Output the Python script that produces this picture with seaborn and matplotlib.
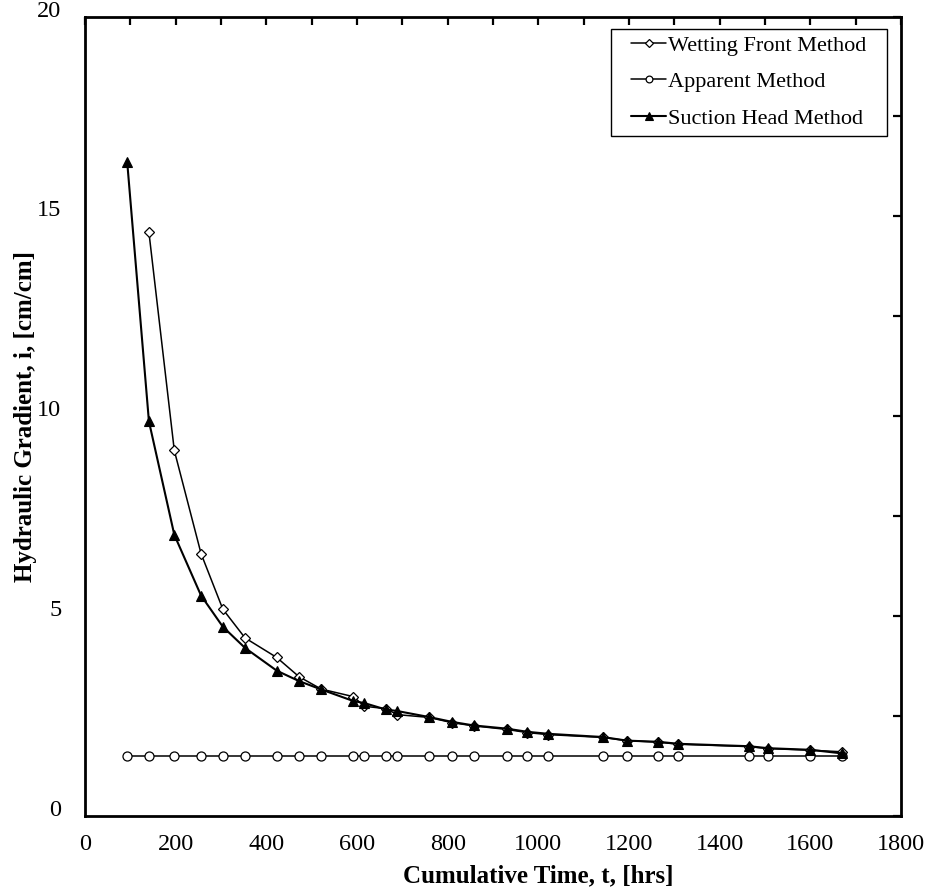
import numpy as np
import pandas as pd
import matplotlib
matplotlib.use('Agg')
import matplotlib.pyplot as plt
import seaborn as sns
from matplotlib.ticker import MultipleLocator
from matplotlib.transforms import ScaledTranslation
from matplotlib.patches import Rectangle

sns.set_theme(style='white')
plt.rcParams['font.family'] = ['Liberation Serif', 'DejaVu Serif']

# Cumulative time [hrs]
time_all = [93, 141, 197, 256, 304, 353, 423, 472, 521, 592, 616, 663, 689, 759,
            809, 857, 930, 976, 1022, 1142, 1195, 1265, 1309, 1464, 1507, 1600, 1670]

# Wetting front method starts at the second reading
wetting_front = [14.6, 9.14, 6.56, 5.17, 4.45, 3.96, 3.48, 3.17, 2.98, 2.74, 2.68,
                 2.53, 2.46, 2.33, 2.25, 2.16, 2.08, 2.03, 1.96, 1.88, 1.84, 1.79,
                 1.73, 1.68, 1.64, 1.60]
apparent = [1.5] * len(time_all)
suction_head = [16.37, 9.87, 7.03, 5.51, 4.73, 4.20, 3.63, 3.37, 3.16, 2.87, 2.82,
                2.66, 2.62, 2.47, 2.35, 2.26, 2.18, 2.10, 2.05, 1.97, 1.88, 1.85,
                1.80, 1.74, 1.69, 1.65, 1.56]

series_names = ['Wetting Front Method', 'Apparent Method', 'Suction Head Method']

fig = plt.figure(figsize=(9.30, 8.92), dpi=100)
ax = fig.add_axes([0.0914, 0.0855, 0.8774, 0.896])

sns.lineplot(x=time_all[1:], y=wetting_front, ax=ax, color='black', lw=1.1,
             marker='D', markersize=5, markerfacecolor='white',
             markeredgecolor='black', markeredgewidth=0.9,
             label=series_names[0], sort=False)
sns.lineplot(x=time_all, y=apparent, ax=ax, color='black', lw=1.1,
             marker='o', markersize=6.5, markerfacecolor='white',
             markeredgecolor='black', markeredgewidth=0.9,
             label=series_names[1], sort=False)
sns.lineplot(x=time_all, y=suction_head, ax=ax, color='black', lw=1.5,
             marker='^', markersize=7, markerfacecolor='black',
             markeredgecolor='black', markeredgewidth=0.8,
             label=series_names[2], sort=False)

ax.set_xlim(0, 1800)
ax.set_ylim(0, 20)
ax.xaxis.set_major_locator(MultipleLocator(200))
ax.xaxis.set_minor_locator(MultipleLocator(100))
ax.yaxis.set_major_locator(MultipleLocator(5))
ax.yaxis.set_minor_locator(MultipleLocator(2.5))
ax.tick_params(which='both', direction='in', top=True, right=True,
               length=6, width=1.6, color='black', labelsize=17.5,
               labelcolor='black')
ax.tick_params(axis='x', pad=13)
ax.tick_params(axis='y', pad=17)

for s in ax.spines.values():
    s.set_color('black')
    s.set_linewidth(2)

ax.set_xlabel('Cumulative Time, t, [hrs]', fontsize=18, fontweight='bold', color='black')
ax.set_ylabel('Hydraulic Gradient, i, [cm/cm]', fontsize=18, fontweight='bold', color='black')
ax.xaxis.set_label_coords(0.555, -0.061)
ax.yaxis.set_label_coords(-0.059, 0.5)

# y tick labels sit a little above their ticks in the original
shift = ScaledTranslation(0, 8 / 100, fig.dpi_scale_trans)
for t in ax.yaxis.get_major_ticks():
    t.label1.set_transform(t.label1.get_transform() + shift)

leg = ax.legend(loc='upper right', fontsize=16, frameon=False,
                handlelength=1.55, handletextpad=0.1, markerscale=0.75,
                borderpad=0.3, labelspacing=0.72, borderaxespad=0,
                bbox_to_anchor=(873 / 930, 1 - 28.5 / 892),
                bbox_transform=fig.transFigure)
for txt in leg.get_texts():
    txt.set_color('black')

fig.canvas.draw()
bb = leg.get_window_extent()
extra = 14
frame = Rectangle((bb.x0 - extra, bb.y0), bb.width + 2 * extra, bb.height,
                  transform=None, fill=False, edgecolor='black', linewidth=1.0,
                  zorder=5)
fig.patches.append(frame)

fig.savefig('out.png', dpi=100)
